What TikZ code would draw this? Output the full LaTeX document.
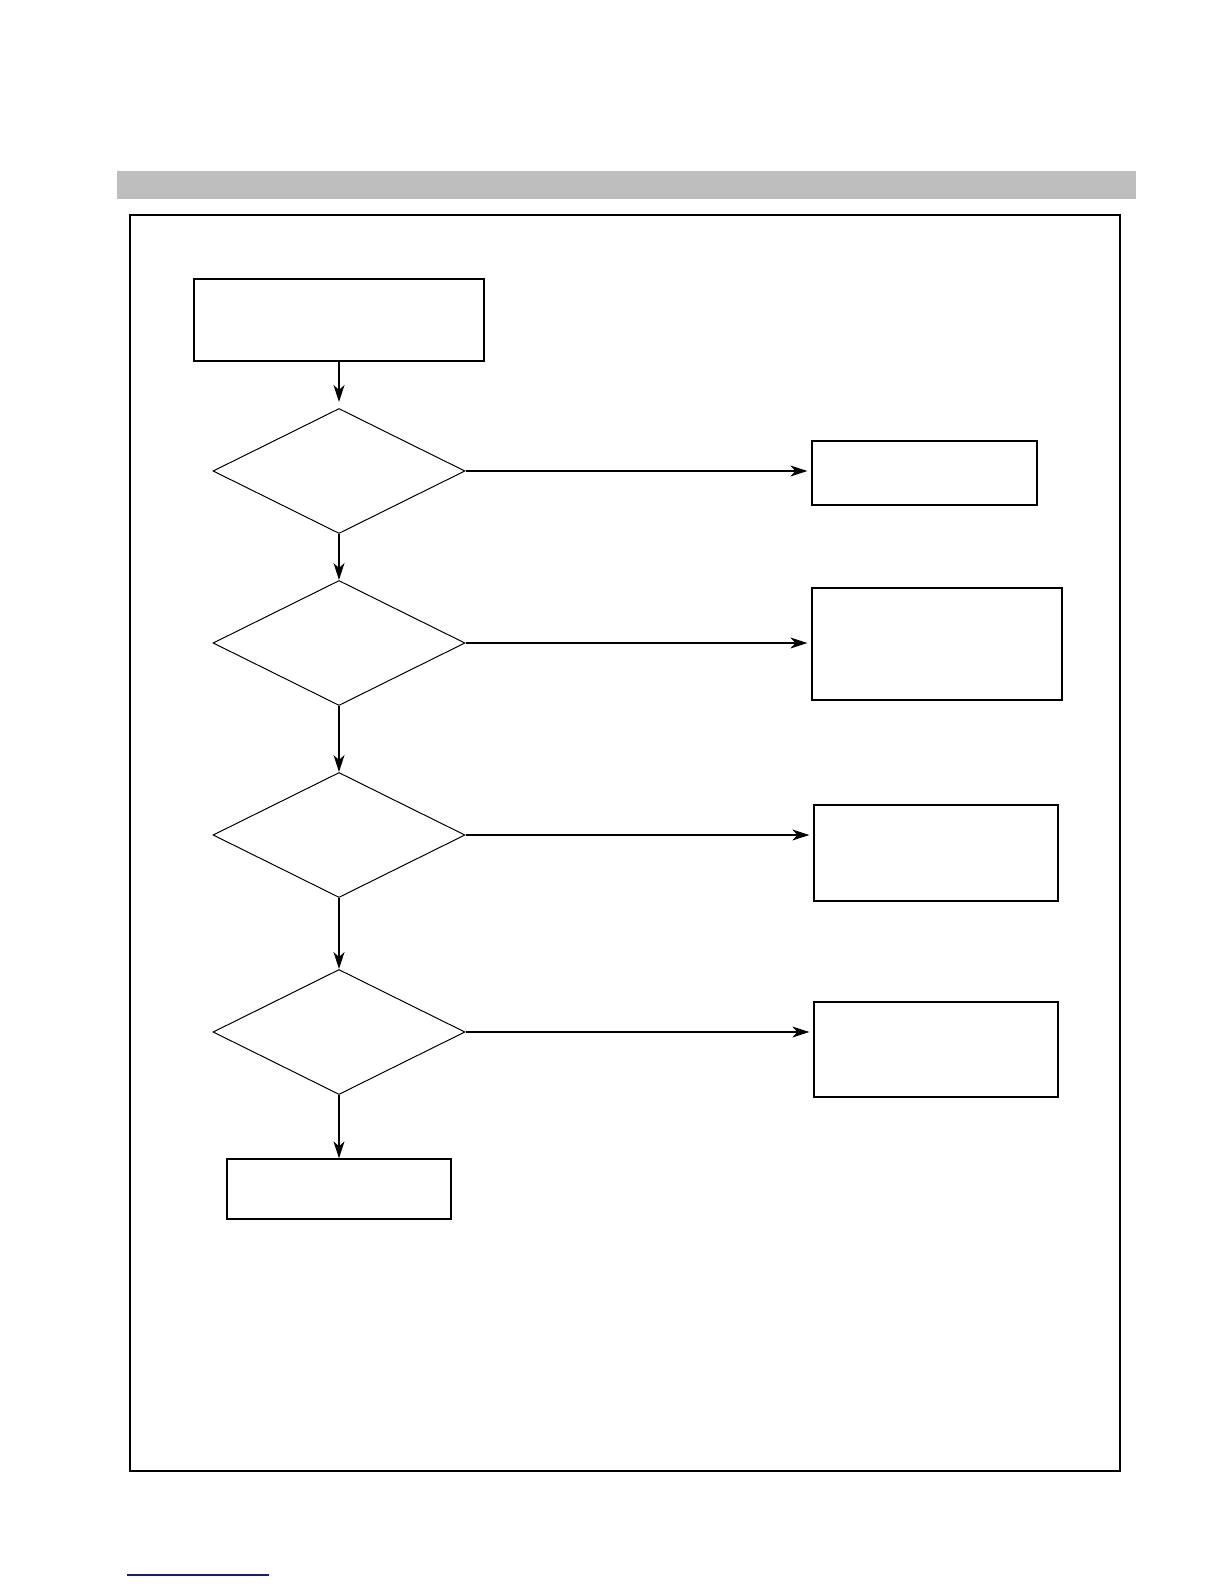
\documentclass[tikz,border=0pt]{standalone}
\usetikzlibrary{shapes.geometric,arrows.meta}
\definecolor{bargray}{HTML}{BEBEBE}
\definecolor{linkblue}{HTML}{1A1A80}
\begin{document}
\begin{tikzpicture}[x=0.5pt,y=-0.5pt,>={Stealth[length=8.5pt,width=5.5pt,inset=2.5pt]},
box/.style={draw,line width=0.65pt,inner sep=0pt},
decision/.style={draw,diamond,line width=0.5pt,inner sep=0pt,minimum width=126pt,minimum height=62.5pt},
flow/.style={->,line width=0.6pt}]
\useasboundingbox(0,0)rectangle(1224,1584);
\fill[bargray](117,171)rectangle(1136,199);
\draw[line width=0.8pt](130,215)rectangle(1120,1471);
\draw[linkblue,line width=1pt](127,1575)--(269,1575);
\node[box,minimum width=145pt,minimum height=41pt](start)at(339,320){};
\node[decision](d1)at(339,471){};
\node[decision](d2)at(339,643){};
\node[decision](d3)at(339,835){};
\node[decision](d4)at(339,1032){};
\node[box,minimum width=112pt,minimum height=30pt](stop)at(339,1189){};
\node[box,minimum width=112.5pt,minimum height=32pt](r1)at(924.5,473){};
\node[box,minimum width=125pt,minimum height=56pt](r2)at(937,644){};
\node[box,minimum width=122pt,minimum height=48pt](r3)at(936,853){};
\node[box,minimum width=122pt,minimum height=47.5pt](r4)at(936,1049.5){};
\draw[flow,shorten >=3pt](start)--(d1);
\draw[flow](d1)--(d2);
\draw[flow](d2)--(d3);
\draw[flow](d3)--(d4);
\draw[flow](d4)--(stop);
\draw[flow,shorten >=2pt](d1.east)--(d1.east-|r1.west);
\draw[flow,shorten >=2pt](d2.east)--(d2.east-|r2.west);
\draw[flow,shorten >=2pt](d3.east)--(d3.east-|r3.west);
\draw[flow,shorten >=2pt](d4.east)--(d4.east-|r4.west);
\end{tikzpicture}
\end{document}
